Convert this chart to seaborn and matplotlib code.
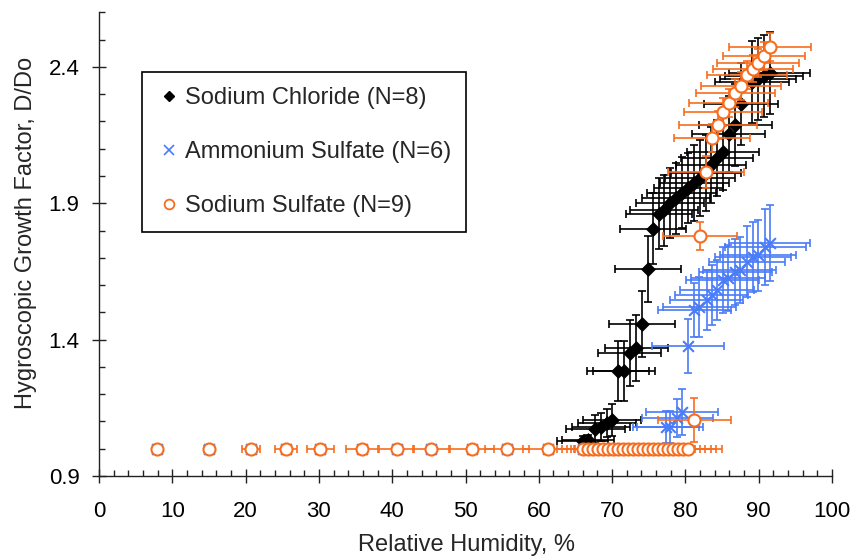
import numpy as np
import pandas as pd
import matplotlib
matplotlib.use("Agg")
import matplotlib.pyplot as plt
import seaborn as sns
from matplotlib.ticker import MultipleLocator, FormatStrFormatter
from matplotlib.lines import Line2D

sns.set_theme(style="ticks")
plt.rcParams["font.family"] = ["Liberation Sans", "DejaVu Sans"]

# ---------------- data ----------------
nacl_rh = [66.0, 66.7, 67.7, 68.5, 69.3, 70.0, 70.8, 71.6, 72.4, 73.3, 74.1, 74.9,
           75.6, 76.4, 77.1, 77.9, 78.7, 79.5, 80.4, 81.2, 82.0, 82.8, 83.5, 84.3,
           85.1, 85.9, 86.8, 87.6, 89.1, 89.9, 90.7, 91.5]
nacl_gf = [1.028, 1.032, 1.072, 1.080, 1.094, 1.105, 1.285, 1.285, 1.351, 1.369,
           1.457, 1.659, 1.806, 1.861, 1.875, 1.901, 1.919, 1.938, 1.956, 1.974,
           1.993, 2.011, 2.040, 2.066, 2.088, 2.154, 2.187, 2.264, 2.345, 2.356,
           2.367, 2.378]
nacl_xerr = [3.5, 3.5, 4.0, 4.0, 4.0, 4.0, 4.2, 4.2, 4.3, 4.3, 4.5, 4.5, 4.5, 4.5,
             4.6, 4.6, 4.6, 4.7, 4.7, 4.7, 4.8, 4.8, 4.8, 4.9, 4.9, 5.0, 5.0, 5.0,
             5.1, 5.2, 5.3, 5.5]
nacl_yerr = [0.02, 0.02, 0.05, 0.05, 0.05, 0.06, 0.11, 0.11, 0.12, 0.12, 0.12,
             0.12, 0.13, 0.13, 0.13, 0.13, 0.13, 0.13, 0.13, 0.14, 0.14, 0.14,
             0.14, 0.14, 0.14, 0.14, 0.15, 0.15, 0.15, 0.15, 0.15, 0.15]

as_rh = [7.95, 15.05, 20.7, 25.5, 30.2, 35.9, 40.6, 45.3, 50.9, 55.6, 61.3, 66.0,
         77.4, 77.9, 78.9, 79.5, 80.4, 81.2, 81.9, 82.9, 83.6, 84.3, 85.1, 85.8,
         86.8, 87.4, 88.4, 89.2, 89.9, 90.9, 91.5]
as_gf = [1.0, 1.0, 1.0, 1.0, 1.0, 1.0, 1.0, 1.0, 1.0, 1.0, 1.0, 1.0,
         1.080, 1.080, 1.113, 1.135, 1.377, 1.509, 1.520, 1.545, 1.564, 1.582,
         1.619, 1.626, 1.648, 1.655, 1.685, 1.703, 1.710, 1.740, 1.754]
as_xerr = [0, 0, 0, 0, 0, 0, 0, 0, 0, 0, 0, 0,
           4.5, 4.5, 4.8, 4.9, 4.9, 5.0, 5.0, 5.0, 5.0, 5.0, 5.0, 5.0, 5.0, 5.0,
           5.2, 5.2, 5.2, 5.5, 5.5]
as_yerr = [0, 0, 0, 0, 0, 0, 0, 0, 0, 0, 0, 0,
           0.06, 0.06, 0.07, 0.085, 0.10, 0.10, 0.11, 0.11, 0.11, 0.11, 0.12,
           0.12, 0.12, 0.12, 0.13, 0.13, 0.13, 0.14, 0.14]

ss_rh = [7.95, 15.05, 20.7, 25.5, 30.2, 35.9, 40.6, 45.3, 50.9, 55.6, 61.3,
         66.0, 66.7, 67.4, 68.1, 68.7, 69.4, 70.1, 70.8, 71.5, 72.2, 72.9, 73.5,
         74.2, 74.9, 75.6, 76.3, 77.0, 77.6, 78.3, 79.0, 79.7, 80.4,
         81.2, 82.0, 82.8, 83.6, 84.4, 85.1, 85.9, 86.8, 87.6, 88.4, 89.2, 89.9,
         90.7, 91.5]
ss_gf = [1.0, 1.0, 1.0, 1.0, 1.0, 1.0, 1.0, 1.0, 1.0, 1.0, 1.0,
         1.0, 1.0, 1.0, 1.0, 1.0, 1.0, 1.0, 1.0, 1.0, 1.0, 1.0, 1.0,
         1.0, 1.0, 1.0, 1.0, 1.0, 1.0, 1.0, 1.0, 1.0, 1.0,
         1.105, 1.780, 2.015, 2.139, 2.187, 2.235, 2.268, 2.304, 2.330, 2.370,
         2.393, 2.414, 2.440, 2.473]
ss_xerr = [0.2, 0.7, 1.2, 1.5, 1.8, 2.2, 2.4, 2.5, 3.0, 3.0, 3.5,
           3.5, 3.6, 3.6, 3.7, 3.7, 3.8, 3.8, 3.9, 3.9, 4.0, 4.0, 4.1,
           4.1, 4.2, 4.2, 4.3, 4.3, 4.4, 4.4, 4.5, 4.5, 4.6,
           5.0, 5.0, 5.2, 5.2, 5.3, 5.3, 5.4, 5.4, 5.5, 5.5, 5.5, 5.6, 5.6, 5.6]
ss_yerr = [0.0] * 33 + [0.08, 0.05, 0.06, 0.05, 0.05, 0.05, 0.05, 0.05, 0.05,
                        0.05, 0.05, 0.05, 0.05, 0.05]

labels = ["Sodium Chloride (N=8)", "Ammonium Sulfate (N=6)", "Sodium Sulfate (N=9)"]
x_ticks = [0, 10, 20, 30, 40, 50, 60, 70, 80, 90, 100]
y_ticks = [0.9, 1.4, 1.9, 2.4]

BLACK = "#000000"
BLUE = "#4a7cf7"
ORANGE = "#f76d1e"

# ---------------- figure ----------------
fig = plt.figure(figsize=(8.58, 5.59), dpi=100)
ax = fig.add_axes([0.1154, 0.1485, 0.8543, 0.8293])

series = [
    (labels[0], nacl_rh, nacl_gf, nacl_xerr, nacl_yerr, BLACK),
    (labels[1], as_rh, as_gf, as_xerr, as_yerr, BLUE),
    (labels[2], ss_rh, ss_gf, ss_xerr, ss_yerr, ORANGE),
]

z = 2
for name, rh, gf, xe, ye, col in series:
    ax.errorbar(rh, gf, xerr=xe, yerr=ye, fmt="none", ecolor=col,
                elinewidth=1.2, capsize=3, capthick=1.2, zorder=z)
    df = pd.DataFrame({"RH": rh, "GF": gf})
    if name == labels[0]:
        sns.scatterplot(data=df, x="RH", y="GF", ax=ax, marker="D", s=50,
                        color=BLACK, edgecolor=BLACK, linewidth=0.5,
                        legend=False, zorder=z + 1)
    elif name == labels[1]:
        sns.scatterplot(data=df, x="RH", y="GF", ax=ax, marker="x", s=60,
                        color=BLUE, linewidth=1.5, legend=False, zorder=z + 1)
    else:
        sns.scatterplot(data=df, x="RH", y="GF", ax=ax, marker="o", s=75,
                        facecolor="white", edgecolor=ORANGE, linewidth=1.5,
                        legend=False, zorder=z + 1)
    z += 2

ax.set_xlim(0, 100)
ax.set_ylim(0.9, 2.6)
ax.set_xticks(x_ticks)
ax.set_yticks(y_ticks)
ax.yaxis.set_major_formatter(FormatStrFormatter("%.1f"))
ax.xaxis.set_minor_locator(MultipleLocator(2))
ax.yaxis.set_minor_locator(MultipleLocator(0.1))
ax.tick_params(which="major", direction="inout", length=10, width=1.0,
               labelsize=16, colors="#222222", labelcolor="black")
ax.tick_params(axis="x", which="major", pad=13)
ax.tick_params(axis="y", which="major", pad=9)
ax.tick_params(which="minor", direction="in", length=4, width=1.0, colors="#222222")
for s in ["top", "right"]:
    ax.spines[s].set_visible(False)
for s in ["left", "bottom"]:
    ax.spines[s].set_linewidth(1.0)
    ax.spines[s].set_color("#222222")

ax.set_xlabel("Relative Humidity, %", fontsize=17, va="center", ha="center")
ax.set_ylabel("Hygroscopic Growth Factor, D/Do", fontsize=17, va="center", ha="center")
ax.xaxis.set_label_coords(0.502, -0.149)
ax.yaxis.set_label_coords(-0.100, 0.524)

handles = [
    Line2D([], [], linestyle="none", marker="D", markersize=5, color=BLACK),
    Line2D([], [], linestyle="none", marker="x", markersize=7, color=BLUE,
           markeredgewidth=1.2),
    Line2D([], [], linestyle="none", marker="o", markersize=7,
           markerfacecolor="white", markeredgecolor=ORANGE, markeredgewidth=1.3),
]
leg = ax.legend(handles, labels, loc="upper left", bbox_to_anchor=(0.059, 0.872),
                fontsize=17, frameon=True, fancybox=False, framealpha=1,
                edgecolor="black", handlelength=1.0, handletextpad=0.15,
                labelspacing=1.35, borderpad=0.65, borderaxespad=0)
leg.get_frame().set_linewidth(1.2)

fig.savefig("out.png", dpi=100)
